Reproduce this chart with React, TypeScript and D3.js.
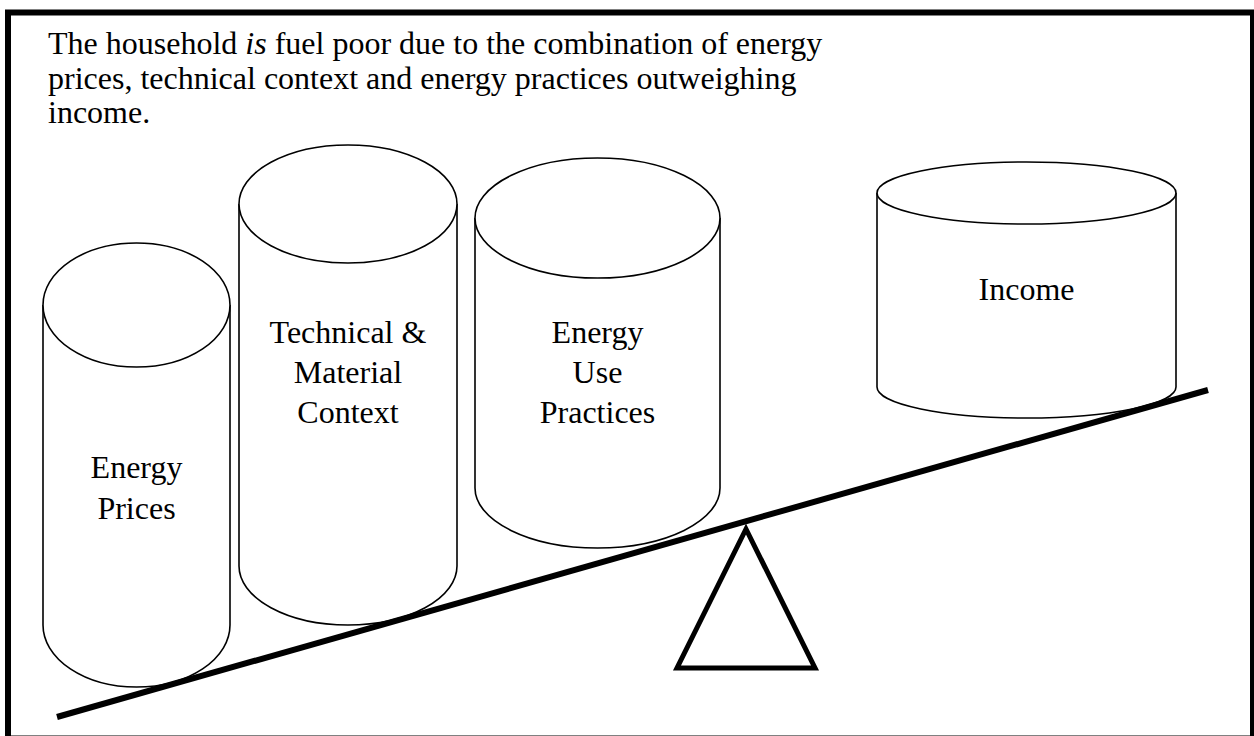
import * as d3 from "d3";

// caption above the scale, the middle word is set in italics
const captionLines = [
  ["The household ", "is", " fuel poor due to the combination of energy"],
  ["prices, technical context and energy practices outweighing"],
  ["income."],
];

const factorNames = ["Energy Prices", "Technical & Material Context", "Energy Use Practices", "Income"];
const factorLines = [
  ["Energy", "Prices"],
  ["Technical &", "Material", "Context"],
  ["Energy", "Use", "Practices"],
  ["Income"],
];

// cylinder shapes: left edge, right edge, top rim y, bottom rim y, rim half-height
const cylLeft = [43, 239, 475, 877];
const cylRight = [230, 457, 720, 1176];
const cylTop = [305, 204, 218, 193];
const cylBottom = [625, 566, 488, 387];
const cylRy = [62, 59, 60, 31];
const labelFirstBaseline = [478, 343, 343, 300];
const labelLine = [41, 40, 40, 40];

const W = 1254;
const H = 736;
const FONT = "'Liberation Serif', 'Times New Roman', serif";
const CAPTION_TOP = 54;
const CAPTION_LINE = 34.5;

// the beam of the see-saw
const beamX = [57, 1208];
const beamY = [717, 390];
const pivot = { x: 746, top: 529, base: 668, half: 69 };

function Cylinder({ i }: { i: number }) {
  const cx = (cylLeft[i] + cylRight[i]) / 2;
  const rx = (cylRight[i] - cylLeft[i]) / 2;
  const ry = cylRy[i];
  const body = `M${cylLeft[i]},${cylTop[i]} L${cylLeft[i]},${cylBottom[i]} A${rx},${ry} 0 0 0 ${cylRight[i]},${cylBottom[i]} L${cylRight[i]},${cylTop[i]}`;
  return (
    <g aria-label={factorNames[i]}>
      <path d={body} fill="#fff" stroke="#000" strokeWidth={1.6} />
      <ellipse cx={cx} cy={cylTop[i]} rx={rx} ry={ry} fill="#fff" stroke="#000" strokeWidth={1.6} />
      {factorLines[i].map((t, k) => (
        <text key={k} x={cx} y={labelFirstBaseline[i] + k * labelLine[i]} textAnchor="middle" fontSize={32}>
          {t}
        </text>
      ))}
    </g>
  );
}

export default function App() {
  const beam = d3.line()([
    [beamX[0], beamY[0]],
    [beamX[1], beamY[1]],
  ]);
  const tri =
    d3.line()([
      [pivot.x, pivot.top],
      [pivot.x + pivot.half, pivot.base],
      [pivot.x - pivot.half, pivot.base],
    ]) + "Z";

  return (
    <svg
      width={W}
      height={H}
      style={{ position: "absolute", left: 0, top: 0, background: "#fff", fontFamily: FONT }}
    >
      <rect x={8} y={12.5} width={1245} height={726} fill="#fff" stroke="#000" strokeWidth={6} />
      <text x={48} y={CAPTION_TOP} fontSize={32}>
        {captionLines.map((parts, li) => (
          <tspan key={li} x={48} y={CAPTION_TOP + li * CAPTION_LINE}>
            {parts.map((s, k) =>
              s === "is" ? (
                <tspan key={k} fontStyle="italic">{s}</tspan>
              ) : (
                <tspan key={k}>{s}</tspan>
              )
            )}
          </tspan>
        ))}
      </text>
      {factorLines.map((_, i) => (
        <Cylinder key={i} i={i} />
      ))}
      <path d={beam ?? ""} stroke="#000" strokeWidth={6} fill="none" />
      <path d={tri} stroke="#000" strokeWidth={5} fill="none" strokeLinejoin="miter" />
    </svg>
  );
}
